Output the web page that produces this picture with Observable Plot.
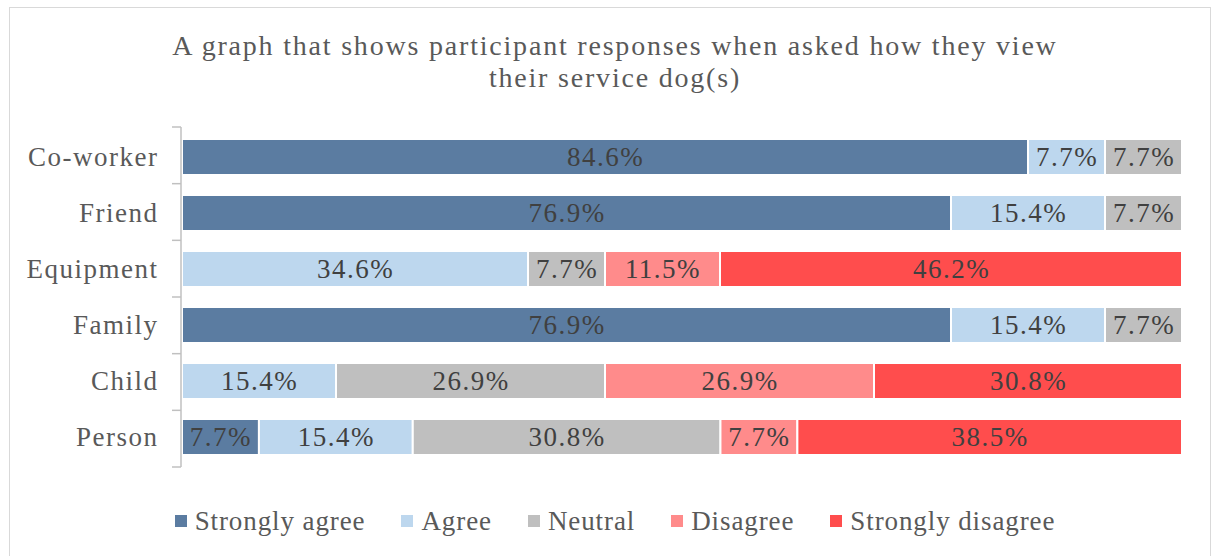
<!DOCTYPE html>
<html><head><meta charset="utf-8">
<script src="https://cdn.jsdelivr.net/npm/d3@7"></script>
<script src="https://cdn.jsdelivr.net/npm/@observablehq/plot@0.6"></script>
<style>
html,body{margin:0;padding:0;background:#fff;overflow:hidden;}
#wrap{position:relative;width:1216px;height:556px;font-family:"Liberation Serif","Times New Roman",serif;overflow:hidden;}
#frame{position:absolute;left:9px;top:7px;width:1202px;height:570px;border:1px solid #D9D9D9;box-sizing:border-box;}
#title{position:absolute;left:65px;width:1100px;top:30px;text-align:center;font-size:28px;line-height:32px;color:#595959;letter-spacing:1.8px;}
#chart{position:absolute;left:0;top:120px;}
#legend{position:absolute;left:0;width:1230px;top:504px;height:34px;display:flex;justify-content:center;align-items:center;font-size:27px;color:#595959;letter-spacing:0.9px;}
.item{display:flex;align-items:center;margin:0 18px;}
.sw{width:12px;height:12px;margin-right:8px;}
</style></head>
<body>
<div id="wrap">
  <div id="frame"></div>
  <div id="title">A graph that shows participant responses when asked how they view<br>their service dog(s)</div>
  <div id="chart"></div>
  <div id="legend"></div>
</div>
<script>
const categories = ["Co-worker","Friend","Equipment","Family","Child","Person"];
const responses = ["Strongly agree","Agree","Neutral","Disagree","Strongly disagree"];
const colors = ["#5B7CA1","#BDD7EE","#BFBFBF","#FF8B8B","#FF4D4D"];
const stronglyAgree = [84.6,76.9,0,76.9,0,7.7];
const agree = [7.7,15.4,34.6,15.4,15.4,15.4];
const neutral = [7.7,7.7,7.7,7.7,26.9,30.8];
const disagree = [0,0,11.5,0,26.9,7.7];
const stronglyDisagree = [0,0,46.2,0,30.8,38.5];

const series = [stronglyAgree, agree, neutral, disagree, stronglyDisagree];
const data = [];
categories.forEach((c, i) => {
  responses.forEach((r, j) => {
    const v = series[j][i];
    if (v > 0) data.push({cat: c, resp: r, value: v});
  });
});

const font = '"Liberation Serif","Times New Roman",serif';

const axisLine = (index, scales, values, dim) => {
  const g = d3.create("svg:g").attr("stroke", "#C0C0C0").attr("stroke-width", 1.5);
  const x0 = dim.marginLeft - 1;
  const top = dim.marginTop, bottom = dim.height - dim.marginBottom;
  g.append("line").attr("x1", x0).attr("x2", x0).attr("y1", top).attr("y2", bottom);
  const n = categories.length;
  for (let k = 0; k <= n; k++) {
    const y = top + k * (bottom - top) / n;
    g.append("line").attr("x1", x0 - 9).attr("x2", x0).attr("y1", y).attr("y2", y);
  }
  return g.node();
};

const stackOpts = {x: "value", y: "cat", z: "resp", order: responses, offset: "normalize"};

const plot = Plot.plot({
  width: 1216,
  height: 360,
  marginLeft: 182,
  marginRight: 34,
  marginTop: 7,
  marginBottom: 13,
  x: {domain: [0, 1], axis: null},
  y: {domain: categories, paddingInner: 0.36, paddingOuter: 0.18, axis: null},
  color: {domain: responses, range: colors},
  style: {fontFamily: font, fontSize: "27px", color: "#595959", background: "transparent", overflow: "visible", letterSpacing: "1.5px"},
  marks: [
    Plot.barX(data, Plot.stackX({...stackOpts, fill: "resp", stroke: "white", strokeWidth: 2})),
    Plot.text(data, Plot.stackX({...stackOpts, text: d => d.value.toFixed(1) + "%", fill: "#404040", fontSize: 27, fontFamily: font})),
    Plot.axisY({tickSize: 0, tickPadding: 24, fontSize: 27, fill: "#595959", label: null, fontFamily: font}),
    axisLine
  ]
});
document.getElementById("chart").appendChild(plot);

const legend = d3.select("#legend");
responses.forEach((r, i) => {
  const it = legend.append("div").attr("class", "item");
  it.append("div").attr("class", "sw").style("background", colors[i]);
  it.append("span").text(r);
});
</script>
</body></html>
